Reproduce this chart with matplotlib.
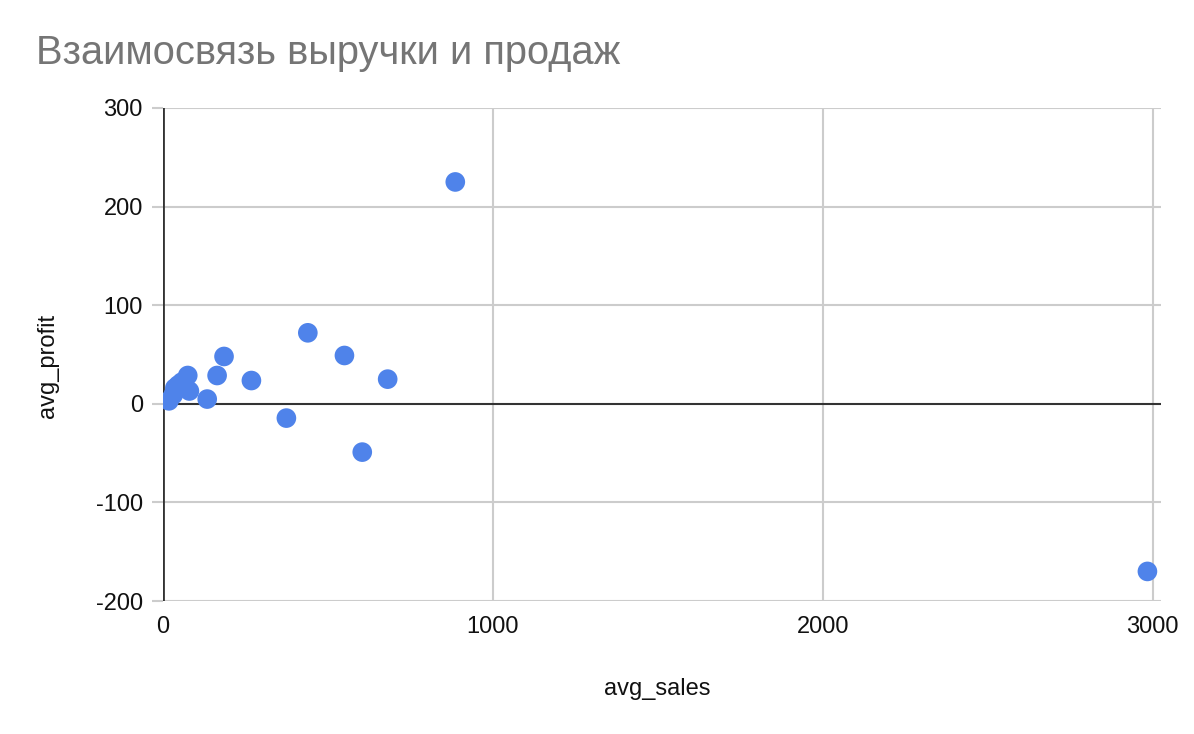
import matplotlib
matplotlib.use("Agg")
import matplotlib.pyplot as plt
from matplotlib.ticker import FuncFormatter

avg_sales = [18, 31, 36, 46, 57, 75, 80, 134, 164, 185, 268, 374, 439, 550, 604, 681, 886, 2984]
avg_profit = [3, 9, 16, 19, 22, 28.7, 13, 4.8, 28.7, 48, 23.6, -14.5, 72, 49, -49, 25, 225, -170]

x_ticks = [0, 1000, 2000, 3000]
y_ticks = [-200, -100, 0, 100, 200, 300]

title = "Взаимосвязь выручки и продаж"
x_label = "avg_sales"
y_label = "avg_profit"

plt.rcParams['font.family'] = ['Liberation Sans', 'DejaVu Sans']
plt.rcParams['axes.unicode_minus'] = False

fig = plt.figure(figsize=(11.94, 7.34), dpi=100)
ax = fig.add_axes([163/1194, (734-601)/734, (1161-163)/1194, (601-108)/734])

ax.set_xlim(0, 3000 * 998 / 989.7)
ax.set_ylim(-200, 300)

for s in ax.spines.values():
    s.set_visible(False)

grid_color = '#cccccc'
for xv in x_ticks[1:]:
    ax.axvline(xv, color=grid_color, lw=1.5, zorder=1)
for yv in y_ticks:
    if yv != 0:
        ax.axhline(yv, color=grid_color, lw=1.5, zorder=1)
ax.axhline(0, color='#333333', lw=1.5, zorder=2)
ax.axvline(0, color='#333333', lw=2, zorder=2)

ax.scatter(avg_sales, avg_profit, s=200, color='#4f83ea', edgecolors='none', zorder=3)

fmt = FuncFormatter(lambda v, p: str(int(v)))
ax.set_xticks(x_ticks)
ax.set_yticks(y_ticks)
ax.xaxis.set_major_formatter(fmt)
ax.yaxis.set_major_formatter(fmt)
ax.tick_params(axis='x', length=0, pad=10.5, labelsize=17, labelcolor='#111111')
ax.tick_params(axis='y', length=8, width=1.5, color=grid_color, pad=6.5, labelsize=17, labelcolor='#111111')

fig.text(657/1194, 1 - 695/734, x_label, fontsize=17, color='#111111', ha='center', va='baseline')
fig.text(47.5/1194, 1 - 365.5/734, y_label, fontsize=17, color='#111111', ha='center', va='center', rotation=90)

fig.text(36/1194, 1 - 63.5/734, title, fontsize=28.7, color='#757575', va='baseline', ha='left')

fig.savefig("out.png", dpi=100)
